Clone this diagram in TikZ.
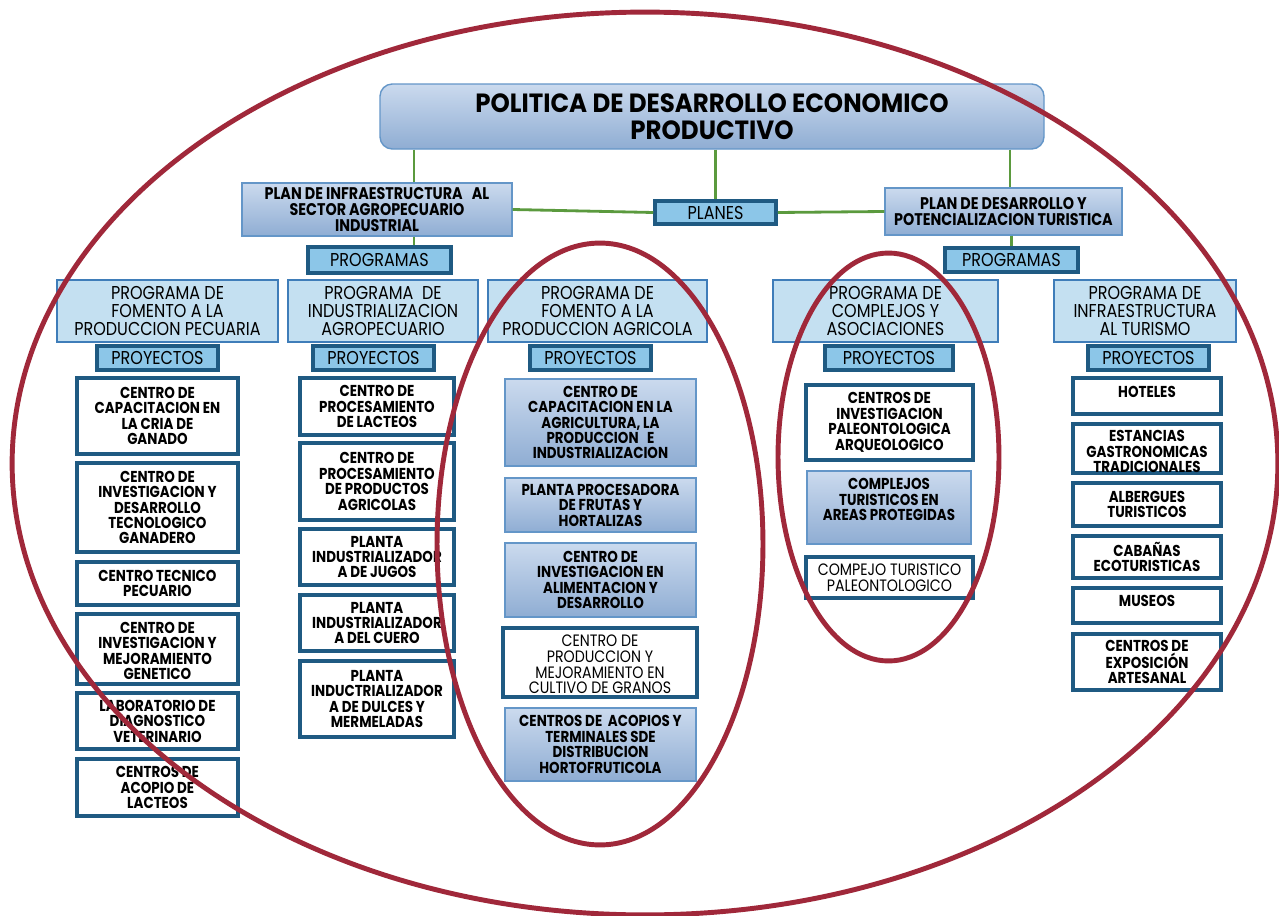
\documentclass[tikz,border=0pt]{standalone}
\usepackage{fontspec}
\setmainfont{Poppins}
\newfontfamily\ancha[FakeStretch=0.93]{Poppins}
\newfontfamily\gruesa[FakeStretch=0.85]{Poppins}
\newfontfamily\media[FakeStretch=0.86]{Poppins}
\definecolor{rojo}{RGB}{160,40,58}
\definecolor{verde}{RGB}{91,154,62}
\definecolor{celeste}{RGB}{196,224,241}
\definecolor{bordeprog}{RGB}{63,125,185}
\definecolor{etiqueta}{RGB}{140,198,232}
\definecolor{azuloscuro}{RGB}{31,90,130}
\definecolor{gradarriba}{RGB}{203,218,238}
\definecolor{gradabajo}{RGB}{143,173,211}
\definecolor{bordegrad}{RGB}{100,150,200}
\newcommand{\caja}[9][0]{%
  \node[#3, inner sep=0pt, minimum width={(#7-#5)*0.02cm}, minimum height={(#8-#6)*0.02cm}] (#2) at ({(#5+#7)/2},{(#6+#8)/2}) {};
  \node[#4, align=center, inner sep=0pt] (#2t) at ([yshift=#1*0.02cm]#2.center) {#9};
}

\begin{document}
\begin{tikzpicture}[x=0.02cm, y=-0.02cm,
    blanca/.style={fill=white, draw=azuloscuro, line width=2.6pt},
    grad/.style={top color=gradarriba, bottom color=gradabajo, draw=bordegrad, line width=0.8pt},
    prog/.style={fill=celeste, draw=bordeprog, line width=1.3pt},
    etiq/.style={fill=etiqueta, draw=azuloscuro, line width=2pt},
    titulo/.style={grad, rounded corners=7pt},
    negra/.style={font=\gruesa\bfseries\fontsize{9}{8.8}\selectfont},
    plantxt/.style={font=\gruesa\bfseries\fontsize{9.6}{8.9}\selectfont},
    fina/.style={font=\media\fontsize{9.4}{8.9}\selectfont},
    progtxt/.style={font=\media\fontsize{10.6}{10.2}\selectfont},
    grande/.style={font=\ancha\bfseries\fontsize{15}{15.4}\selectfont},
    enlace/.style={verde, line width=1.6pt},
    ovalo/.style={rojo, line width=2.8pt}]
  \path[fill=white, use as bounding box] (0,0) rectangle (1279,916);

  \caja{pol}{titulo}{grande}{380}{84}{1044}{149}{POLITICA DE DESARROLLO ECONOMICO\\PRODUCTIVO}
  \caja{planA}{grad}{plantxt}{242}{183}{512}{236}{PLAN DE INFRAESTRUCTURA\ \ \ AL\\SECTOR AGROPECUARIO\\INDUSTRIAL}
  \caja{planes}{etiq}{progtxt}{655}{201}{776}{224}{PLANES}
  \caja{planB}{grad}{plantxt}{885}{188}{1122}{235}{PLAN DE DESARROLLO Y\\POTENCIALIZACION TURISTICA}
  \caja{progsA}{etiq}{progtxt}{308}{247}{451}{273}{PROGRAMAS}
  \caja{progsB}{etiq}{progtxt}{945}{248}{1078}{272}{PROGRAMAS}

  \draw[enlace] (pol.south -| 414,0) -- (planA.north -| 414,0);
  \draw[enlace] (pol.south -| planes.north) -- (planes.north);
  \draw[enlace] (pol.south -| 1010,0) -- (planB.north -| 1010,0);
  \draw[enlace] (planA.east) -- (planes.west);
  \draw[enlace] (planes.east) -- (planB.west);
  \draw[enlace] (planA.south -| 414,0) -- (progsA.north -| 414,0);
  \draw[enlace] (planB.south -| progsB.north) -- (progsB.north);

  \caja{pecuaria}{prog}{progtxt}{57}{280}{278}{342}{PROGRAMA DE\\FOMENTO A LA\\PRODUCCION PECUARIA}
  \caja{industrial}{prog}{progtxt}{288}{280}{478}{342}{PROGRAMA\ \ DE\\INDUSTRIALIZACION\\AGROPECUARIO}
  \caja{agricola}{prog}{progtxt}{488}{280}{707}{342}{PROGRAMA DE\\FOMENTO A LA\\PRODUCCION AGRICOLA}
  \caja{complejos}{prog}{progtxt}{773}{280}{998}{342}{PROGRAMA DE\\COMPLEJOS Y\\ASOCIACIONES}
  \caja{turismo}{prog}{progtxt}{1054}{280}{1236}{342}{PROGRAMA DE\\INFRAESTRUCTURA\\AL TURISMO}

  \foreach \n/\a/\b in {1/97/218, 2/313/434, 3/530/651, 4/825/953, 5/1088/1209}
    \caja{proy\n}{etiq}{progtxt}{\a}{346}{\b}{370}{PROYECTOS};

  \caja{pecA}{blanca}{negra}{77}{378}{238}{454}{CENTRO DE\\CAPACITACION EN\\LA CRIA DE\\GANADO}
  \caja{pecB}{blanca}{negra}{77}{463}{238}{552}{CENTRO DE\\INVESTIGACION Y\\DESARROLLO\\TECNOLOGICO\\GANADERO}
  \caja{pecC}{blanca}{negra}{77}{562}{238}{605}{CENTRO TECNICO\\PECUARIO}
  \caja[-2]{pecD}{blanca}{negra}{77}{614}{238}{684}{CENTRO DE\\INVESTIGACION Y\\MEJORAMIENTO\\GENETICO}
  \caja{pecE}{blanca}{negra}{77}{693}{238}{749}{LABORATORIO DE\\DIAGNOSTICO\\VETERINARIO}
  \caja{pecF}{blanca}{negra}{77}{759}{238}{816}{CENTROS DE\\ACOPIO DE\\LACTEOS}

  \caja{indA}{blanca}{negra}{300}{378}{454}{435}{CENTRO DE\\PROCESAMIENTO\\DE LACTEOS}
  \caja{indB}{blanca}{negra}{300}{443}{454}{520}{CENTRO DE\\PROCESAMIENTO\\DE PRODUCTOS\\AGRICOLAS}
  \caja{indC}{blanca}{negra}{300}{529}{454}{585}{PLANTA\\INDUSTRIALIZADOR\\A DE JUGOS}
  \caja{indD}{blanca}{negra}{300}{595}{454}{651}{PLANTA\\INDUSTRIALIZADOR\\A DEL CUERO}
  \caja{indE}{blanca}{negra}{300}{661}{454}{737}{PLANTA\\INDUCTRIALIZADOR\\A DE DULCES Y\\MERMELADAS}

  \caja{agrA}{grad}{negra}{505}{379}{696}{466}{CENTRO DE\\CAPACITACION EN LA\\AGRICULTURA, LA\\PRODUCCION\ \ \ E\\INDUSTRIALIZACION}
  \caja{agrB}{grad}{negra}{505}{478}{696}{532}{PLANTA PROCESADORA\\DE FRUTAS Y\\HORTALIZAS}
  \caja{agrC}{grad}{negra}{505}{543}{696}{617}{CENTRO DE\\INVESTIGACION EN\\ALIMENTACION Y\\DESARROLLO}
  \caja[-2]{agrD}{blanca}{fina}{503}{628}{697}{697}{CENTRO DE\\PRODUCCION Y\\MEJORAMIENTO EN\\CULTIVO DE GRANOS}
  \caja{agrE}{grad}{negra}{505}{708}{696}{781}{CENTROS DE\ \ ACOPIOS Y\\TERMINALES SDE\\DISTRIBUCION\\HORTOFRUTICOLA}

  \caja{comA}{blanca}{negra}{806}{385}{973}{460}{CENTROS DE\\INVESTIGACION\\PALEONTOLOGICA\\ARQUEOLOGICO}
  \caja[8]{comB}{grad}{negra}{807}{471}{971}{544}{COMPLEJOS\\TURISTICOS EN\\AREAS PROTEGIDAS}
  \caja{comC}{blanca}{fina}{806}{557}{973}{598}{COMPEJO TURISTICO\\PALEONTOLOGICO}

  \caja[4]{turA}{blanca}{negra}{1073}{378}{1221}{414}{HOTELES}
  \caja[-3]{turB}{blanca}{negra}{1073}{424}{1221}{473}{ESTANCIAS\\GASTRONOMICAS\\TRADICIONALES}
  \caja{turC}{blanca}{negra}{1073}{483}{1221}{526}{ALBERGUES\\TURISTICOS}
  \caja{turD}{blanca}{negra}{1073}{536}{1221}{578}{CABAÑAS\\ECOTURISTICAS}
  \caja[5]{turE}{blanca}{negra}{1073}{588}{1221}{623}{MUSEOS}
  \caja{turF}{blanca}{negra}{1073}{634}{1221}{690}{CENTROS DE\\EXPOSICIÓN\\ARTESANAL}

  \draw[ovalo] (645,463.5) ellipse [x radius=12.66cm, y radius=9.03cm];
  \draw[ovalo] (600,544) ellipse [x radius=3.26cm, y radius=6.02cm];
  \draw[ovalo] (888.5,457) ellipse [x radius=2.21cm, y radius=4.08cm];
\end{tikzpicture}
\end{document}
